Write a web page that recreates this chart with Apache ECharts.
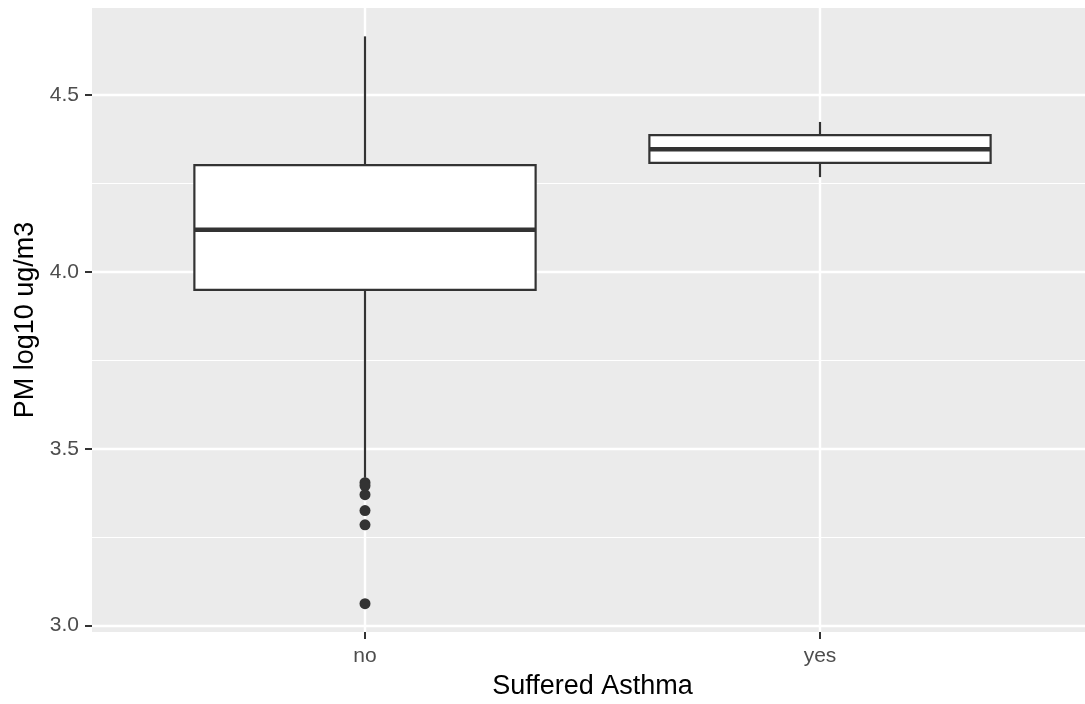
<!DOCTYPE html>
<html>
<head>
<meta charset="utf-8">
<script src="https://cdn.jsdelivr.net/npm/echarts@6/dist/echarts.min.js"></script>
<style>
  html, body { margin: 0; padding: 0; background: #ffffff; }
  #chart { width: 1085px; height: 704px; }
</style>
</head>
<body>
<div id="chart"></div>
<script>
// Categories on the x axis
const categories = ['no', 'yes'];

// Box summary per category (PM, log10 ug/m3)
const whiskerLow  = [3.418, 4.268];
const q1          = [3.949, 4.308];
const median      = [4.119, 4.347];
const q3          = [4.302, 4.387];
const whiskerHigh = [4.666, 4.424];

// Points beyond the whiskers, group "no"
const outliersNo = [3.404, 3.395, 3.370, 3.325, 3.285, 3.062];

// Axis ticks
const yMajorTicks = [3.0, 3.5, 4.0, 4.5];
const yMinorTicks = [3.25, 3.75, 4.25];

// y range: data extent expanded by 5% on each side
const allVals = whiskerLow.concat(whiskerHigh, outliersNo);
const lo = Math.min(...allVals), hi = Math.max(...allVals);
const pad = (hi - lo) * 0.05;

const FONT = '"Liberation Sans", Arial, Helvetica, sans-serif';
const INK = '#333333';

const boxData = categories.map((c, i) => [i + 1, whiskerLow[i], q1[i], median[i], q3[i], whiskerHigh[i]]);
const outlierData = outliersNo.map(v => [1, v]);

const gridLines = []
  .concat(yMinorTicks.map(v => ({ yAxis: v, lineStyle: { width: 1.2 } })))
  .concat(yMajorTicks.map(v => ({ yAxis: v, lineStyle: { width: 2.4 } })))
  .concat(categories.map((c, i) => ({ xAxis: i + 1, lineStyle: { width: 2.4 } })));

const chart = echarts.init(document.getElementById('chart'), null, { renderer: 'canvas' });

chart.setOption({
  animation: false,
  backgroundColor: '#ffffff',
  textStyle: { fontFamily: FONT },
  grid: {
    left: 92, top: 8, width: 1001, height: 624,
    outerBoundsMode: 'none',
    containLabel: false,
    show: true, backgroundColor: '#EBEBEB', borderWidth: 0
  },
  xAxis: {
    type: 'value',
    min: 0.4, max: 2.6,
    axisLine: { show: false },
    splitLine: { show: false },
    axisTick: { show: true, customValues: [1, 2], length: 7, lineStyle: { color: INK, width: 2 } },
    axisLabel: {
      customValues: [1, 2],
      formatter: v => categories[Math.round(v) - 1] || '',
      color: '#4D4D4D', fontSize: 21, fontFamily: FONT, margin: 14
    },
    name: 'Suffered Asthma',
    nameLocation: 'middle',
    nameGap: 41,
    nameTextStyle: { color: '#000000', fontSize: 27, fontFamily: FONT }
  },
  yAxis: {
    type: 'value',
    min: lo - pad, max: hi + pad,
    axisLine: { show: false },
    splitLine: { show: false },
    axisTick: { show: true, customValues: yMajorTicks, length: 7, lineStyle: { color: INK, width: 2 } },
    axisLabel: {
      customValues: yMajorTicks,
      formatter: v => v.toFixed(1),
      color: '#4D4D4D', fontSize: 21, fontFamily: FONT, margin: 13
    },
    name: 'PM log10 ug/m3',
    nameLocation: 'middle',
    nameGap: 52,
    nameRotate: 90,
    nameTextStyle: { color: '#000000', fontSize: 27, fontFamily: FONT }
  },
  series: [
    {
      // panel grid lines
      type: 'scatter',
      data: [],
      z: 1,
      silent: true,
      markLine: {
        z: 1,
        silent: true,
        symbol: ['none', 'none'],
        label: { show: false },
        lineStyle: { color: '#FFFFFF', type: 'solid' },
        data: gridLines
      }
    },
    {
      type: 'custom',
      z: 3,
      data: boxData,
      encode: { x: 0, y: [1, 2, 3, 4, 5] },
      renderItem: function (params, api) {
        const x = api.value(0);
        const half = api.size([0.75, 0])[0] / 2;
        const pLow = api.coord([x, api.value(1)]);
        const pQ1 = api.coord([x, api.value(2)]);
        const pMed = api.coord([x, api.value(3)]);
        const pQ3 = api.coord([x, api.value(4)]);
        const pHigh = api.coord([x, api.value(5)]);
        const cx = pQ1[0];
        return {
          type: 'group',
          children: [
            { type: 'line', shape: { x1: cx, y1: pHigh[1], x2: cx, y2: pQ3[1] },
              style: { stroke: INK, lineWidth: 2.2 } },
            { type: 'line', shape: { x1: cx, y1: pQ1[1], x2: cx, y2: pLow[1] },
              style: { stroke: INK, lineWidth: 2.2 } },
            { type: 'rect', shape: { x: cx - half, y: pQ3[1], width: half * 2, height: pQ1[1] - pQ3[1] },
              style: { fill: '#FFFFFF', stroke: INK, lineWidth: 2.2 } },
            { type: 'line', shape: { x1: cx - half, y1: pMed[1], x2: cx + half, y2: pMed[1] },
              style: { stroke: INK, lineWidth: 4.4 } }
          ]
        };
      }
    },
    {
      type: 'scatter',
      z: 4,
      data: outlierData,
      symbol: 'circle',
      symbolSize: 11,
      itemStyle: { color: INK, opacity: 1 },
      silent: true
    }
  ]
});
</script>
</body>
</html>
